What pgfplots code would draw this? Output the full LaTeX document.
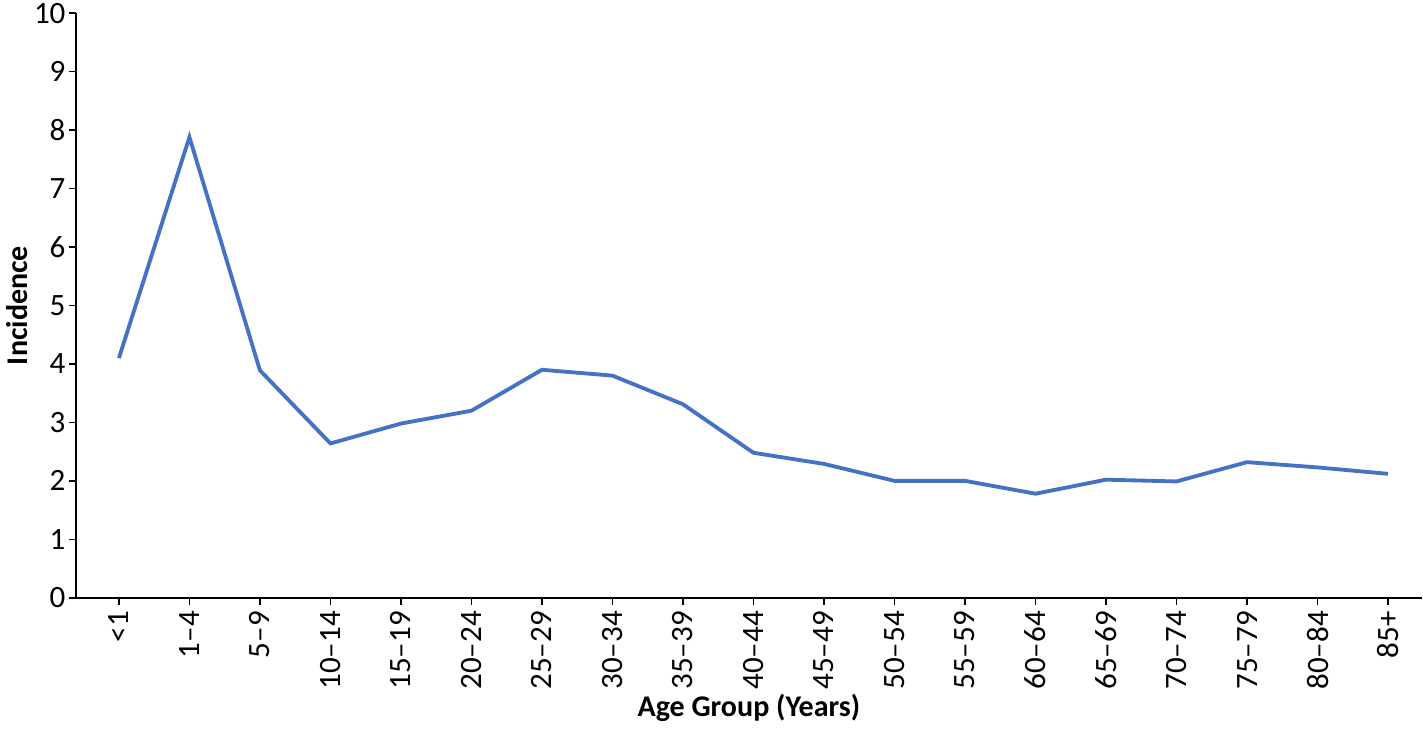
\documentclass[border=0pt]{standalone}
\usepackage{fontspec}
\setmainfont{Carlito}
\usepackage{pgfplots}
\pgfplotsset{compat=1.18}
\definecolor{lineblue}{HTML}{4472C4}
\begin{document}
\begin{tikzpicture}
\begin{axis}[
  scale only axis,
  width=670bp, height=291bp,
  xmin=-0.61, xmax=18.48,
  ymin=0, ymax=10,
  ytick={0,1,...,10},
  xtick={0,...,18},
  xticklabels={<1,1--4,5--9,10--14,15--19,20--24,25--29,30--34,35--39,40--44,45--49,50--54,55--59,60--64,65--69,70--74,75--79,80--84,85+},
  x tick label style={rotate=90, anchor=east, inner sep=1bp, xshift=-2bp},
  y tick label style={inner sep=1.5bp},
  axis x line*=bottom, axis y line*=left,
  axis line style={line width=1.1bp, -},
  tick style={line width=0.8bp, black},
  tick align=outside,
  major tick length=3.5bp,
  tick label style={font=\fontsize{15.5}{18}\selectfont},
  /pgf/number format/assume math mode=true,
  xlabel={\textbf{Age Group (Years)}},
  ylabel={\textbf{Incidence}},
  label style={font=\fontsize{15}{18}\selectfont},
  xlabel style={yshift=2bp},
  ylabel style={yshift=-2bp},
]
\addplot[color=lineblue, line width=1.9bp, mark=none] coordinates {
(0,4.10) (1,7.88) (2,3.89) (3,2.64) (4,2.98) (5,3.20) (6,3.90) (7,3.80) (8,3.31) (9,2.48) (10,2.29) (11,2.00) (12,2.00) (13,1.78) (14,2.02) (15,1.99) (16,2.32) (17,2.23) (18,2.12)
};
\end{axis}
\end{tikzpicture}
\end{document}
